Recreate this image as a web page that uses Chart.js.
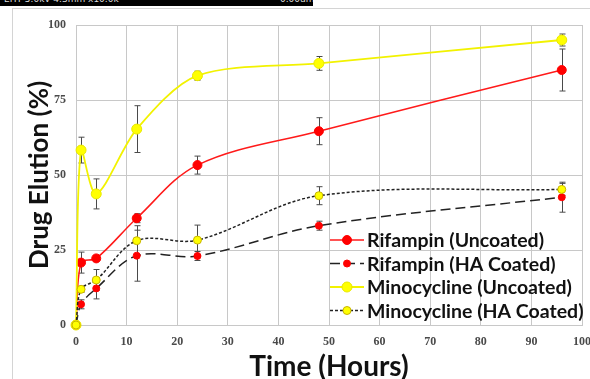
<!DOCTYPE html>
<html>
<head>
<meta charset="utf-8">
<script src="https://cdn.jsdelivr.net/npm/chart.js@4.4.0/dist/chart.umd.min.js"></script>
<style>
  html, body { margin: 0; padding: 0; background: #fff; }
  #wrap { position: relative; width: 590px; height: 379px; overflow: hidden; }
  #panel { position: absolute; left: 12px; top: 8px; width: 600px; height: 400px; border: 1px solid #d4d4d4; box-sizing: border-box; }
  #sembar { position: absolute; left: 0; top: 0; width: 313px; height: 6px; background: #000; overflow: hidden; }
  #sembar span { position: absolute; top: -6px; color: #ddd; font: 9px "DejaVu Sans", sans-serif; white-space: nowrap; }
  canvas { position: absolute; left: 0; top: 0; }
</style>
</head>
<body>
<div id="wrap">
  <div id="panel"></div>
  <div id="sembar"><span style="left:4px">EHT 5.0kV 4.3mm x10.0k</span><span style="left:280px">0.00um</span></div>
  <canvas id="myChart" width="600" height="384"></canvas>
</div>
<script>
// sampling times (hours)
const hours = [0, 1, 4, 12, 24, 48, 96]

// drug elution (%) and error bar half-widths
const rifUncoated = [0, 20.8, 22.2, 35.6, 53.3, 64.6, 85]
const rifUncoatedErr = [0, 3.5, 1, 1.5, 3, 4.5, 7]
const rifCoated = [0, 6.9, 12.2, 23.1, 23, 33.1, 42.6]
const rifCoatedErr = [0, 1.5, 3.5, 8.5, 1.5, 1.5, 5]
const minoUncoated = [0, 58.3, 43.7, 65.3, 83.1, 87.2, 95]
const minoUncoatedErr = [0, 4.3, 5, 7.8, 1.5, 2.3, 2]
const minoCoated = [0, 11.9, 15, 28.1, 28.3, 43.1, 45.2]
const minoCoatedErr = [0, 1, 3.5, 5, 5, 3, 2]

const seriesNames = ['Rifampin (Uncoated)', 'Rifampin (HA Coated)', 'Minocycline (Uncoated)', 'Minocycline (HA Coated)']
const xTicks = [0, 10, 20, 30, 40, 50, 60, 70, 80, 90, 100]
const yTicks = [0, 25, 50, 75, 100]

function pts(vals) {
  return hours.map((h, i) => ({ x: h, y: vals[i] }))
}

const errs = [rifUncoatedErr, rifCoatedErr, minoUncoatedErr, minoCoatedErr]

const errorBars = {
  id: 'errorBars',
  beforeDatasetsDraw(chart) {
    const ctx = chart.ctx
    const xs = chart.scales.x, ys = chart.scales.y
    ctx.save()
    ctx.strokeStyle = '#4a4a4a'
    ctx.lineWidth = 1
    chart.data.datasets.forEach((ds, i) => {
      ds.data.forEach((p, j) => {
        const e = errs[i][j]
        if (!e) return
        const px = Math.round(xs.getPixelForValue(p.x)) + 0.5
        const top = ys.getPixelForValue(p.y + e)
        const bot = ys.getPixelForValue(p.y - e)
        ctx.beginPath()
        ctx.moveTo(px, top); ctx.lineTo(px, bot)
        ctx.moveTo(px - 3, top); ctx.lineTo(px + 3, top)
        ctx.moveTo(px - 3, bot); ctx.lineTo(px + 3, bot)
        ctx.stroke()
      })
    })
    ctx.restore()
  }
}

// excel style legend sitting inside the plot, bottom right
const boxLegend = {
  id: 'boxLegend',
  afterDraw(chart) {
    const ctx = chart.ctx
    const area = chart.chartArea
    const x0 = area.right - 252
    ctx.save()
    ctx.font = 'bold 19.5px Lato'
    ctx.textBaseline = 'middle'
    chart.data.datasets.forEach((ds, i) => {
      const y = area.bottom - 85 + i * 23.5
      ctx.strokeStyle = ds.borderColor
      ctx.lineWidth = ds.borderWidth
      ctx.setLineDash(ds.borderDash || [])
      ctx.beginPath()
      ctx.moveTo(x0, y); ctx.lineTo(x0 + 34, y)
      ctx.stroke()
      ctx.setLineDash([])
      ctx.beginPath()
      ctx.arc(x0 + 17, y, ds.pointRadius, 0, Math.PI * 2)
      ctx.fillStyle = ds.pointBackgroundColor
      ctx.fill()
      ctx.lineWidth = ds.pointBorderWidth
      ctx.strokeStyle = ds.pointBorderColor
      ctx.stroke()
      ctx.fillStyle = '#111'
      ctx.fillText(ds.label, x0 + 37, y + 1)
    })
    ctx.restore()
  }
}

const data = {
  datasets: [{
    label: seriesNames[0],
    data: pts(rifUncoated),
    order: 4,
    borderColor: '#ff1a1a',
    borderWidth: 1.5,
    pointRadius: 4.5,
    pointBackgroundColor: '#ff0000',
    pointBorderColor: '#ff0000',
    pointBorderWidth: 1,
    tension: 0.35,
    clip: false
  }, {
    label: seriesNames[1],
    data: pts(rifCoated),
    order: 3,
    borderColor: '#222',
    borderWidth: 1.5,
    borderDash: [10, 5],
    pointRadius: 3.5,
    pointBackgroundColor: '#ff0000',
    pointBorderColor: '#ff0000',
    pointBorderWidth: 1,
    tension: 0.35,
    clip: false
  }, {
    label: seriesNames[2],
    data: pts(minoUncoated),
    order: 2,
    borderColor: '#f2f200',
    borderWidth: 1.8,
    pointRadius: 5,
    pointBackgroundColor: '#ffff00',
    pointBorderColor: '#e8e800',
    pointBorderWidth: 1,
    tension: 0.3,
    clip: false
  }, {
    label: seriesNames[3],
    data: pts(minoCoated),
    order: 1,
    borderColor: '#222',
    borderWidth: 1.5,
    borderDash: [3, 2],
    pointRadius: 4,
    pointBackgroundColor: '#ffff00',
    pointBorderColor: '#c8b400',
    pointBorderWidth: 1,
    tension: 0.35,
    clip: false
  }]
}

const config = {
  type: 'line',
  data,
  options: {
    responsive: false,
    animation: false,
    layout: { padding: { left: 24, top: 25, right: 18, bottom: 0 } },
    plugins: { legend: { display: false }, tooltip: { enabled: false } },
    scales: {
      x: {
        type: 'linear',
        min: 0,
        max: 100,
        afterBuildTicks: s => { s.ticks = xTicks.map(v => ({ value: v })) },
        afterFit: s => { s.height = 59; s.paddingLeft = 0; s.paddingRight = 0 },
        grid: { color: '#c8c8c8', drawTicks: false },
        border: { color: '#c8c8c8' },
        ticks: { padding: 10, color: '#4a4a4a', font: { family: 'Liberation Serif', weight: 'bold', size: 12 } },
        title: { display: true, text: 'Time (Hours)', color: '#111', padding: 0, font: { family: 'Lato', weight: 'bold', size: 28 } }
      },
      y: {
        min: 0,
        max: 100,
        afterBuildTicks: s => { s.ticks = yTicks.map(v => ({ value: v })) },
        afterFit: s => { s.width = 52; s.paddingTop = 0; s.paddingBottom = 0 },
        grid: { color: '#c8c8c8', drawTicks: false },
        border: { color: '#c8c8c8' },
        ticks: { padding: 10, color: '#4a4a4a', font: { family: 'Liberation Serif', weight: 'bold', size: 12 } },
        title: { display: true, text: 'Drug Elution (%)', color: '#111', padding: 0, font: { family: 'Lato', weight: 'bold', size: 26 } }
      }
    }
  },
  plugins: [errorBars, boxLegend]
}

const myChart = new Chart(document.getElementById('myChart'), config)
</script>
</body>
</html>
